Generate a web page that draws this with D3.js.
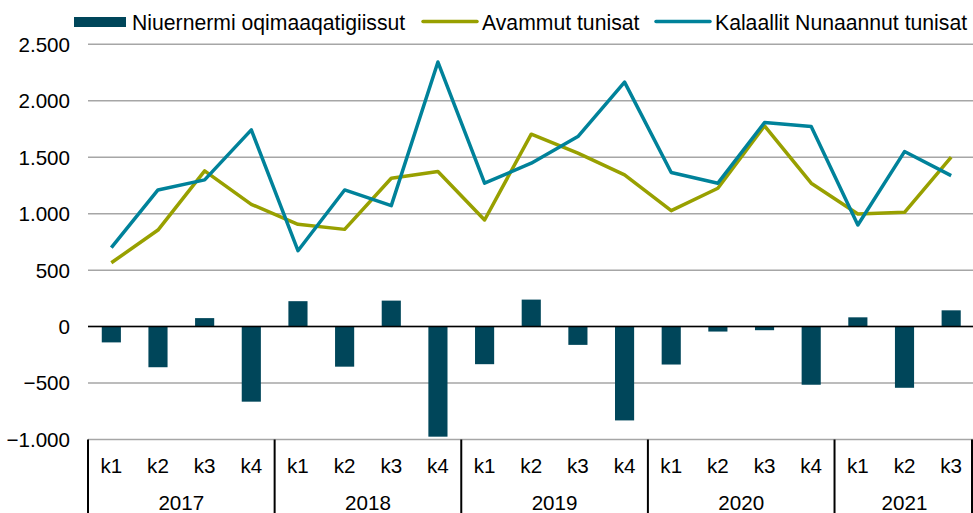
<!DOCTYPE html>
<html>
<head>
<meta charset="utf-8">
<script src="https://cdn.jsdelivr.net/npm/d3@7/dist/d3.min.js"></script>
<style>
  html, body { margin: 0; padding: 0; background: #fff; }
  svg { display: block; font-family: 'Liberation Sans', Arial, sans-serif; }
</style>
</head>
<body>
<div id="chart"></div>
<script>
const years = ['2017', '2018', '2019', '2020', '2021'];
const quarters = ['k1', 'k2', 'k3', 'k4',
  'k1', 'k2', 'k3', 'k4',
  'k1', 'k2', 'k3', 'k4',
  'k1', 'k2', 'k3', 'k4',
  'k1', 'k2', 'k3'];
const quarterYears = ['2017', '2017', '2017', '2017',
  '2018', '2018', '2018', '2018',
  '2019', '2019', '2019', '2019',
  '2020', '2020', '2020', '2020',
  '2021', '2021', '2021'];

// Niuernermi oqimaaqatigiissut (bars)
const balance = [-140, -360, 75, -665, 225, -355, 230, -975, -333, 239, -162, -831, -336, -44, -32, -515, 82, -542, 144];
// Avammut tunisat
const exportsVals = [565, 855, 1379, 1083, 906, 861, 1314, 1373, 944, 1704, 1536, 1343, 1027, 1225, 1778, 1270, 997, 1012, 1500];
// Kalaallit Nunaannut tunisat
const importsVals = [699, 1210, 1299, 1742, 672, 1210, 1071, 2343, 1270, 1447, 1683, 2165, 1364, 1270, 1807, 1772, 900, 1550, 1337];

const yTicks = [-1000, -500, 0, 500, 1000, 1500, 2000, 2500];
const seriesNames = ['Niuernermi oqimaaqatigiissut', 'Avammut tunisat', 'Kalaallit Nunaannut tunisat'];

const W = 973, H = 513;
const colorBar = '#00465a';
const colorGreen = '#98a000';
const colorTeal = '#00829a';

const svg = d3.select('#chart').append('svg')
  .attr('width', W)
  .attr('height', H);

const idx = d3.range(quarters.length);
const x = d3.scaleBand().domain(idx).range([88, 974.5]).paddingInner(0).paddingOuter(0);
const y = d3.scaleLinear().domain([-1000, 2500]).range([439.5, 44.3]);

const fmt = v => d3.format(',')(v).replace(/,/g, '.');

// gridlines
svg.append('g').selectAll('line')
  .data(yTicks)
  .enter().append('line')
  .attr('x1', 88).attr('x2', W)
  .attr('y1', d => y(d)).attr('y2', d => y(d))
  .attr('stroke', '#a6a6a6')
  .attr('stroke-width', 1.5);

// y tick labels
svg.append('g').selectAll('text')
  .data(yTicks)
  .enter().append('text')
  .attr('x', 70)
  .attr('y', d => y(d))
  .attr('dy', '0.36em')
  .attr('text-anchor', 'end')
  .style('font-size', '20.6px')
  .attr('fill', '#000')
  .text(d => fmt(d));

// bars
const barW = x.bandwidth() * 0.41;
svg.append('g').selectAll('rect')
  .data(balance)
  .enter().append('rect')
  .attr('x', (d, i) => x(i) + (x.bandwidth() - barW) / 2)
  .attr('y', d => y(Math.max(0, d)))
  .attr('width', barW)
  .attr('height', d => Math.abs(y(d) - y(0)))
  .attr('fill', colorBar);

// zero line
svg.append('line')
  .attr('x1', 88).attr('x2', W)
  .attr('y1', y(0)).attr('y2', y(0))
  .attr('stroke', '#000')
  .attr('stroke-width', 1.5);

// lines
const line = d3.line()
  .x((d, i) => x(i) + x.bandwidth() / 2)
  .y(d => y(d));

svg.append('path')
  .datum(exportsVals)
  .attr('d', line)
  .attr('fill', 'none')
  .attr('stroke', colorGreen)
  .attr('stroke-width', 3.5)
  .attr('stroke-linejoin', 'round');

svg.append('path')
  .datum(importsVals)
  .attr('d', line)
  .attr('fill', 'none')
  .attr('stroke', colorTeal)
  .attr('stroke-width', 3.5)
  .attr('stroke-linejoin', 'round');

// category axis
const axisG = svg.append('g');
const yearBounds = years.map(yr => {
  const members = idx.filter(i => quarterYears[i] === yr);
  return {
    year: yr,
    x0: x(members[0]),
    x1: x(members[members.length - 1]) + x.bandwidth()
  };
});

axisG.selectAll('line.sep')
  .data([yearBounds[0].x0].concat(yearBounds.map(b => Math.min(b.x1, W - 1))))
  .enter().append('line')
  .attr('class', 'sep')
  .attr('x1', d => d).attr('x2', d => d)
  .attr('y1', y(-1000)).attr('y2', H)
  .attr('stroke', '#000')
  .attr('stroke-width', 2);

axisG.selectAll('text.q')
  .data(quarters)
  .enter().append('text')
  .attr('class', 'q')
  .attr('x', (d, i) => x(i) + x.bandwidth() / 2)
  .attr('y', 473)
  .attr('text-anchor', 'middle')
  .style('font-size', '20.6px')
  .text(d => d);

axisG.selectAll('text.yr')
  .data(yearBounds)
  .enter().append('text')
  .attr('class', 'yr')
  .attr('x', d => (d.x0 + d.x1) / 2)
  .attr('y', 510)
  .attr('text-anchor', 'middle')
  .style('font-size', '20.6px')
  .text(d => d.year);

// legend
const legend = svg.append('g');
const legendItems = [
  { name: seriesNames[0], type: 'rect', color: colorBar, sx: 74, tx: 132 },
  { name: seriesNames[1], type: 'line', color: colorGreen, sx: 423, tx: 482 },
  { name: seriesNames[2], type: 'line', color: colorTeal, sx: 656, tx: 715 }
];
legendItems.forEach(it => {
  if (it.type === 'rect') {
    legend.append('rect')
      .attr('x', it.sx).attr('y', 17)
      .attr('width', 52).attr('height', 10)
      .attr('fill', it.color);
  } else {
    legend.append('line')
      .attr('x1', it.sx).attr('x2', it.sx + 54)
      .attr('y1', 21.5).attr('y2', 21.5)
      .attr('stroke', it.color)
      .attr('stroke-width', 3.5)
      .attr('stroke-linecap', 'round');
  }
  legend.append('text')
    .attr('x', it.tx)
    .attr('y', 22)
    .attr('dy', '0.36em')
    .style('font-size', '21.2px')
    .text(it.name);
});
</script>
</body>
</html>
